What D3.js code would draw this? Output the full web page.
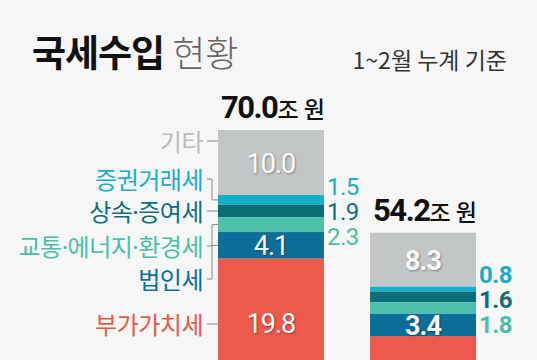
<!DOCTYPE html>
<html>
<head>
<meta charset="utf-8">
<script src="https://cdn.jsdelivr.net/npm/d3@7"></script>
<style>
  body { margin: 0; background: #f7f7f7; }
  svg { display: block; }
</style>
</head>
<body>
<div class="container"></div>
<script>
// segment names, top to bottom
var categories = ["기타", "증권거래세", "상속·증여세", "교통·에너지·환경세", "법인세", "부가가치세"];
var barNames = ["2023", "2024"];
var totals = [70.0, 54.2];
var values2023 = [10.0, 1.5, 1.9, 2.3, 4.1, 19.8];
var values2024 = [8.3, 0.8, 1.6, 1.8, 3.4, 19.8];

var barColors = ["#c3c6c7", "#14afc8", "#0a6e78", "#4dbfaa", "#0d6e9a", "#ec5a4b"];
var textColors = ["#bcbcbc", "#1aaec8", "#0e6f7a", "#4cbfa8", "#0c6e9a", "#e8574a"];

var width = 537, height = 360;
var kr = "'Noto Sans CJK KR', 'Noto Sans', sans-serif";
// latin font first so the middle dot stays narrow, hangul falls back
var krLabel = "'Noto Sans', 'Noto Sans CJK KR', sans-serif";
var num = "Roboto, 'Noto Sans', sans-serif";

var svg = d3.select("div.container").append("svg")
    .attr("width", width)
    .attr("height", height);

svg.append("rect").attr("width", width).attr("height", height).attr("fill", "#f7f7f7");

// title
var title = svg.append("text")
    .attr("x", 32).attr("y", 51)
    .attr("dominant-baseline", "central")
    .style("font-family", kr);
title.append("tspan").text("국세수입")
    .style("font-size", "37px").style("font-weight", 700).attr("fill", "#111")
    .style("letter-spacing", "-1px");
title.append("tspan").text(" 현황")
    .style("font-size", "36px").style("font-weight", 300).attr("fill", "#666");

svg.append("text")
    .attr("x", 507).attr("y", 59)
    .attr("text-anchor", "end")
    .attr("dominant-baseline", "central")
    .style("font-family", kr).style("font-size", "23px")
    .attr("fill", "#333")
    .text("1~2월 누계 기준");

var x = d3.scaleBand().domain(barNames).range([218, 476]).paddingInner(0.303);
var y = d3.scaleLinear().domain([0, 70]).range([585, 130]);

function stackSegs(vals, total) {
    var segs = [], top = total;
    vals.forEach(function(v, i) {
        segs.push({i: i, v: v, y0: top, y1: top - v});
        top -= v;
    });
    return segs;
}

var bars = [
    {name: barNames[0], total: totals[0], segs: stackSegs(values2023, totals[0]), bold: false},
    {name: barNames[1], total: totals[1], segs: stackSegs(values2024, totals[1]), bold: true}
];

bars.forEach(function(b) {
    var g = svg.append("g");
    var bx = x(b.name), bw = x.bandwidth();

    g.selectAll("rect")
        .data(b.segs)
        .enter().append("rect")
        .attr("x", bx)
        .attr("y", function(d) { return y(d.y0); })
        .attr("width", bw)
        .attr("height", function(d) { return y(d.y1) - y(d.y0); })
        .attr("fill", function(d) { return barColors[d.i]; });

    // inside labels: 기타, 법인세, 부가가치세 (only the ones in view)
    g.selectAll("text.inner")
        .data(b.segs.filter(function(d) {
            return (d.i === 0 || d.i === 4 || d.i === 5) && (y(d.y0) + y(d.y1)) / 2 < height - 12;
        }))
        .enter().append("text")
        .attr("class", "inner")
        .attr("x", bx + bw / 2)
        .attr("y", function(d) { return (y(d.y0) + y(d.y1)) / 2 + 1; })
        .attr("text-anchor", "middle")
        .attr("dominant-baseline", "central")
        .style("font-family", num)
        .style("font-size", "27px")
        .style("font-weight", b.bold ? 700 : 400)
        .style("letter-spacing", "-1px")
        .style("text-shadow", "1px 1px 2px rgba(0,0,0,0.35)")
        .attr("fill", "#fafafa")
        .text(function(d) { return d.v.toFixed(1); });

    // outside labels for thin segments
    var mid = b.segs[2];
    var midY = (y(mid.y0) + y(mid.y1)) / 2;
    var gap = 25;
    g.selectAll("text.outer")
        .data(b.segs.filter(function(d) { return d.i >= 1 && d.i <= 3; }))
        .enter().append("text")
        .attr("class", "outer")
        .attr("x", bx + bw + 3)
        .attr("y", function(d) { return midY + (d.i - 2) * gap + (b.bold ? 3 : 1); })
        .attr("dominant-baseline", "central")
        .style("font-family", num)
        .style("font-size", "24px")
        .style("font-weight", b.bold ? 700 : 400)
        .style("letter-spacing", "-0.5px")
        .attr("fill", function(d) { return textColors[d.i]; })
        .text(function(d) { return d.v.toFixed(1); });

    // total on top
    var t = g.append("text")
        .attr("x", bx + bw / 2 + 2)
        .attr("y", y(b.total) - 12)
        .attr("text-anchor", "middle")
        .attr("fill", "#111");
    t.append("tspan").text(b.total.toFixed(1))
        .style("font-family", num).style("font-size", "31px").style("font-weight", 700)
        .style("letter-spacing", "-1.5px");
    t.append("tspan").text("조 원")
        .style("font-family", kr).style("font-size", "23px").style("font-weight", 500);
});

// left legend with connectors to the first bar
var labelY = [141, 179, 211, 246, 279, 324];
var first = bars[0];
var bx0 = x(first.name);
var textEnd = 203;

svg.selectAll("text.cat")
    .data(categories)
    .enter().append("text")
    .attr("class", "cat")
    .attr("x", textEnd)
    .attr("y", function(d, i) { return labelY[i]; })
    .attr("text-anchor", "end")
    .attr("dominant-baseline", "central")
    .style("font-family", krLabel)
    .style("font-size", "24px")
    .style("letter-spacing", "-0.5px")
    .attr("fill", function(d, i) { return textColors[i]; })
    .text(function(d) { return d; });

var lineData = first.segs.map(function(s) {
    var segY = (y(s.y0) + y(s.y1)) / 2;
    if (s.i === 0) segY = labelY[0];
    return {ly: labelY[s.i], sy: segY};
});

svg.selectAll("path.conn")
    .data(lineData)
    .enter().append("path")
    .attr("class", "conn")
    .attr("fill", "none")
    .attr("stroke", "#8a8a8a")
    .attr("stroke-width", 1)
    .attr("d", function(d) {
        var xs = textEnd + 4, xe = bx0, xm = bx0 - 6;
        if (Math.abs(d.ly - d.sy) < 2) return "M" + xs + "," + d.ly + "H" + xe;
        return "M" + xs + "," + d.ly + "H" + xm + "V" + d.sy + "H" + xe;
    });
</script>
</body>
</html>
